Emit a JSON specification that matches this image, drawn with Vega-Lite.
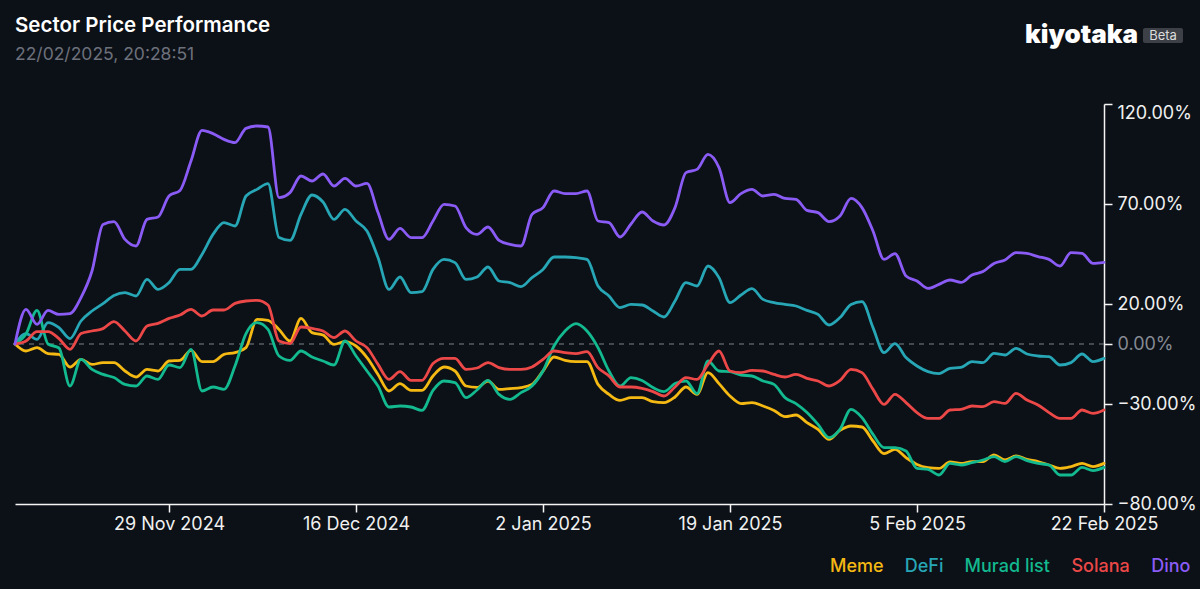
{
  "$schema": "https://vega.github.io/schema/vega-lite/v6.json",
  "autosize": "none",
  "width": 1089,
  "height": 400,
  "padding": {"left": 15, "top": 104, "right": 96, "bottom": 85},
  "background": "#0c1017",
  "config": {
    "view": {"stroke": null},
    "font": "Inter",
    "axis": {"grid": false, "labelFont": "Inter", "labelFontSize": 18, "labelColor": "#f0f0f0", "domainColor": "#f5f5f5", "domainWidth": 1.5, "tickColor": "#f5f5f5", "tickWidth": 1.5, "tickSize": 8, "title": null}
  },
  "title": {
    "text": "Sector Price Performance",
    "subtitle": "22/02/2025, 20:28:51",
    "anchor": "start",
    "frame": "group",
    "orient": "top",
    "offset": -41,
    "font": "Inter",
    "fontSize": 20.5,
    "fontWeight": 600,
    "color": "#ffffff",
    "subtitleFont": "Inter",
    "subtitleFontSize": 17.5,
    "subtitleColor": "#6c717b",
    "subtitlePadding": 9
  },
  "datasets": {
    "perf": [
      {"date":"2024-11-15","Meme":0,"DeFi":0,"Murad list":0,"Solana":0,"Dino":0},
      {"date":"2024-11-16","Meme":-3.5,"DeFi":5.2,"Murad list":5,"Solana":1.5,"Dino":17.3},
      {"date":"2024-11-17","Meme":-1.8,"DeFi":2.3,"Murad list":16.8,"Solana":6.2,"Dino":9.8},
      {"date":"2024-11-18","Meme":-4.8,"DeFi":10.7,"Murad list":0,"Solana":6.2,"Dino":16.8},
      {"date":"2024-11-19","Meme":-5.2,"DeFi":8.2,"Murad list":-2,"Solana":2.7,"Dino":14.8},
      {"date":"2024-11-20","Meme":-11.5,"DeFi":2.7,"Murad list":-21,"Solana":-2.7,"Dino":15.2},
      {"date":"2024-11-21","Meme":-7.7,"DeFi":11.5,"Murad list":-7.7,"Solana":5.2,"Dino":23.2},
      {"date":"2024-11-22","Meme":-10.2,"DeFi":16.5,"Murad list":-12.7,"Solana":6.5,"Dino":36.5},
      {"date":"2024-11-23","Meme":-9.3,"DeFi":20.2,"Murad list":-15.2,"Solana":7.7,"Dino":59.8},
      {"date":"2024-11-24","Meme":-9.3,"DeFi":24.3,"Murad list":-16.8,"Solana":11.2,"Dino":61.2},
      {"date":"2024-11-25","Meme":-13.5,"DeFi":25.7,"Murad list":-20.2,"Solana":6.5,"Dino":52.3},
      {"date":"2024-11-26","Meme":-16.5,"DeFi":24,"Murad list":-21,"Solana":1.5,"Dino":49},
      {"date":"2024-11-27","Meme":-12.7,"DeFi":32.3,"Murad list":-16,"Solana":9,"Dino":62.3},
      {"date":"2024-11-28","Meme":-13.5,"DeFi":27.3,"Murad list":-17.7,"Solana":10.3,"Dino":63.5},
      {"date":"2024-11-29","Meme":-8.5,"DeFi":30.7,"Murad list":-10.5,"Solana":12.8,"Dino":74},
      {"date":"2024-11-30","Meme":-8.2,"DeFi":37.3,"Murad list":-11.8,"Solana":14.5,"Dino":76.8},
      {"date":"2024-12-01","Meme":-3.2,"DeFi":37.3,"Murad list":-2.7,"Solana":17.3,"Dino":91.5},
      {"date":"2024-12-02","Meme":-8.8,"DeFi":44.8,"Murad list":-23.5,"Solana":14,"Dino":106.8},
      {"date":"2024-12-03","Meme":-8.8,"DeFi":54.8,"Murad list":-21.5,"Solana":17,"Dino":105.2},
      {"date":"2024-12-04","Meme":-5.2,"DeFi":60.7,"Murad list":-22.7,"Solana":17,"Dino":102.3},
      {"date":"2024-12-05","Meme":-4.3,"DeFi":59,"Murad list":-11,"Solana":20.3,"Dino":100.7},
      {"date":"2024-12-06","Meme":-1.8,"DeFi":74,"Murad list":5.2,"Solana":21.5,"Dino":107.8},
      {"date":"2024-12-07","Meme":12.3,"DeFi":77.3,"Murad list":10.7,"Solana":21.8,"Dino":109},
      {"date":"2024-12-08","Meme":11.8,"DeFi":80.2,"Murad list":7.3,"Solana":19.5,"Dino":108.5},
      {"date":"2024-12-09","Meme":7.3,"DeFi":53.2,"Murad list":-6,"Solana":1.5,"Dino":73.2},
      {"date":"2024-12-10","Meme":1.5,"DeFi":51.8,"Murad list":-8.2,"Solana":0.2,"Dino":75.7},
      {"date":"2024-12-11","Meme":12.8,"DeFi":64.8,"Murad list":-3.5,"Solana":8.5,"Dino":84},
      {"date":"2024-12-12","Meme":5.7,"DeFi":74.5,"Murad list":-6.5,"Solana":7.8,"Dino":81.5},
      {"date":"2024-12-13","Meme":4.5,"DeFi":71,"Murad list":-8.5,"Solana":6.5,"Dino":85},
      {"date":"2024-12-14","Meme":-0.2,"DeFi":62.3,"Murad list":-10.5,"Solana":3.2,"Dino":79},
      {"date":"2024-12-15","Meme":1.2,"DeFi":67.3,"Murad list":1.5,"Solana":6.5,"Dino":82.8},
      {"date":"2024-12-16","Meme":-1,"DeFi":61.5,"Murad list":-6,"Solana":1.5,"Dino":79},
      {"date":"2024-12-17","Meme":-6.8,"DeFi":56.5,"Murad list":-13.5,"Solana":-1.8,"Dino":80.3},
      {"date":"2024-12-18","Meme":-15.2,"DeFi":43.2,"Murad list":-21,"Solana":-10.2,"Dino":65.7},
      {"date":"2024-12-19","Meme":-23.5,"DeFi":27.3,"Murad list":-31.5,"Solana":-17.7,"Dino":52.3},
      {"date":"2024-12-20","Meme":-19.8,"DeFi":33.5,"Murad list":-31,"Solana":-13.8,"Dino":57.8},
      {"date":"2024-12-21","Meme":-23.2,"DeFi":25.7,"Murad list":-31.5,"Solana":-18.2,"Dino":53.2},
      {"date":"2024-12-22","Meme":-23.2,"DeFi":26.2,"Murad list":-33.2,"Solana":-18.2,"Dino":53.2},
      {"date":"2024-12-23","Meme":-16,"DeFi":37.3,"Murad list":-23.2,"Solana":-9.8,"Dino":61.5},
      {"date":"2024-12-24","Meme":-11.5,"DeFi":42.3,"Murad list":-18.5,"Solana":-7.2,"Dino":69.8},
      {"date":"2024-12-25","Meme":-13.5,"DeFi":40.7,"Murad list":-19.3,"Solana":-7.2,"Dino":69},
      {"date":"2024-12-26","Meme":-21,"DeFi":32.3,"Murad list":-26.8,"Solana":-12.7,"Dino":58.2},
      {"date":"2024-12-27","Meme":-21.7,"DeFi":33.5,"Murad list":-23,"Solana":-12,"Dino":54.8},
      {"date":"2024-12-28","Meme":-18.5,"DeFi":38.5,"Murad list":-18.2,"Solana":-9.3,"Dino":58.5},
      {"date":"2024-12-29","Meme":-22.7,"DeFi":31.5,"Murad list":-25.2,"Solana":-11.8,"Dino":51.8},
      {"date":"2024-12-30","Meme":-22.3,"DeFi":30.7,"Murad list":-27.7,"Solana":-12.7,"Dino":49.8},
      {"date":"2024-12-31","Meme":-21.8,"DeFi":28.7,"Murad list":-24.3,"Solana":-12.7,"Dino":49},
      {"date":"2025-01-01","Meme":-20.2,"DeFi":33.2,"Murad list":-21,"Solana":-11.5,"Dino":64.8},
      {"date":"2025-01-02","Meme":-13.5,"DeFi":37.3,"Murad list":-13.5,"Solana":-7.7,"Dino":68.2},
      {"date":"2025-01-03","Meme":-6.5,"DeFi":43.5,"Murad list":-1,"Solana":-3.5,"Dino":76.5},
      {"date":"2025-01-04","Meme":-8.2,"DeFi":43.5,"Murad list":6.5,"Solana":-4.3,"Dino":75.2},
      {"date":"2025-01-05","Meme":-8.8,"DeFi":43.2,"Murad list":10.2,"Solana":-4.8,"Dino":75.2},
      {"date":"2025-01-06","Meme":-8.8,"DeFi":42.3,"Murad list":6.5,"Solana":-3.8,"Dino":76.5},
      {"date":"2025-01-07","Meme":-20.2,"DeFi":29,"Murad list":-1.8,"Solana":-11.8,"Dino":61.5},
      {"date":"2025-01-08","Meme":-25.2,"DeFi":24,"Murad list":-13.5,"Solana":-16,"Dino":60.7},
      {"date":"2025-01-09","Meme":-28.2,"DeFi":18.2,"Murad list":-21,"Solana":-21.5,"Dino":53.5},
      {"date":"2025-01-10","Meme":-26.8,"DeFi":19.8,"Murad list":-16.8,"Solana":-21.5,"Dino":60},
      {"date":"2025-01-11","Meme":-26.8,"DeFi":19.5,"Murad list":-18.2,"Solana":-22.2,"Dino":66},
      {"date":"2025-01-12","Meme":-28.8,"DeFi":16.5,"Murad list":-21.8,"Solana":-23.8,"Dino":61.5},
      {"date":"2025-01-13","Meme":-29.3,"DeFi":13.5,"Murad list":-23.8,"Solana":-26,"Dino":59.5},
      {"date":"2025-01-14","Meme":-26.5,"DeFi":21.5,"Murad list":-19.8,"Solana":-21.5,"Dino":68.2},
      {"date":"2025-01-15","Meme":-21.5,"DeFi":30.7,"Murad list":-18.5,"Solana":-16.8,"Dino":85.7},
      {"date":"2025-01-16","Meme":-25.2,"DeFi":29,"Murad list":-24.8,"Solana":-17.7,"Dino":87.3},
      {"date":"2025-01-17","Meme":-14.3,"DeFi":39,"Murad list":-8.5,"Solana":-10.2,"Dino":94.8},
      {"date":"2025-01-18","Meme":-19.8,"DeFi":33.2,"Murad list":-13.5,"Solana":-3.5,"Dino":88.2},
      {"date":"2025-01-19","Meme":-26,"DeFi":20.7,"Murad list":-13.8,"Solana":-13.5,"Dino":70.7},
      {"date":"2025-01-20","Meme":-29.8,"DeFi":24.5,"Murad list":-15.5,"Solana":-14.3,"Dino":75.2},
      {"date":"2025-01-21","Meme":-29.3,"DeFi":27.7,"Murad list":-16,"Solana":-13.2,"Dino":77.3},
      {"date":"2025-01-22","Meme":-31,"DeFi":22.3,"Murad list":-18.5,"Solana":-13.5,"Dino":74},
      {"date":"2025-01-23","Meme":-33.2,"DeFi":20.7,"Murad list":-20.2,"Solana":-15.2,"Dino":74.8},
      {"date":"2025-01-24","Meme":-36.3,"DeFi":19.8,"Murad list":-26.8,"Solana":-16.5,"Dino":72.8},
      {"date":"2025-01-25","Meme":-35.5,"DeFi":19,"Murad list":-29.8,"Solana":-15.2,"Dino":72.3},
      {"date":"2025-01-26","Meme":-39.3,"DeFi":16.8,"Murad list":-34.3,"Solana":-17.2,"Dino":66.8},
      {"date":"2025-01-27","Meme":-42.7,"DeFi":14.8,"Murad list":-40.2,"Solana":-18.5,"Dino":65.7},
      {"date":"2025-01-28","Meme":-47.7,"DeFi":9.5,"Murad list":-46.8,"Solana":-21,"Dino":61.2},
      {"date":"2025-01-29","Meme":-43.2,"DeFi":13.2,"Murad list":-42.7,"Solana":-18.2,"Dino":64},
      {"date":"2025-01-30","Meme":-41,"DeFi":19.8,"Murad list":-32.7,"Solana":-12.7,"Dino":72.8},
      {"date":"2025-01-31","Meme":-41.5,"DeFi":21.2,"Murad list":-36.8,"Solana":-14.3,"Dino":68.2},
      {"date":"2025-02-01","Meme":-48.5,"DeFi":8.2,"Murad list":-45.2,"Solana":-22.7,"Dino":56.5},
      {"date":"2025-02-02","Meme":-54.8,"DeFi":-4.3,"Murad list":-51.8,"Solana":-30.2,"Dino":42.3},
      {"date":"2025-02-03","Meme":-52.7,"DeFi":0.2,"Murad list":-51.8,"Solana":-25.2,"Dino":45.2},
      {"date":"2025-02-04","Meme":-56.8,"DeFi":-6.8,"Murad list":-53.5,"Solana":-29.3,"Dino":34},
      {"date":"2025-02-05","Meme":-60.2,"DeFi":-11,"Murad list":-62.2,"Solana":-34.3,"Dino":31.5},
      {"date":"2025-02-06","Meme":-61.8,"DeFi":-13.8,"Murad list":-62.7,"Solana":-37.2,"Dino":27.8},
      {"date":"2025-02-07","Meme":-62.2,"DeFi":-14.8,"Murad list":-65.5,"Solana":-37.2,"Dino":29.8},
      {"date":"2025-02-08","Meme":-59,"DeFi":-12.2,"Murad list":-59.7,"Solana":-33,"Dino":32},
      {"date":"2025-02-09","Meme":-59.7,"DeFi":-11.7,"Murad list":-60.5,"Solana":-32.7,"Dino":30.8},
      {"date":"2025-02-10","Meme":-58.8,"DeFi":-8.8,"Murad list":-59.3,"Solana":-31,"Dino":34.5},
      {"date":"2025-02-11","Meme":-58.8,"DeFi":-9.3,"Murad list":-58,"Solana":-31.3,"Dino":36.2},
      {"date":"2025-02-12","Meme":-55.5,"DeFi":-4.7,"Murad list":-56.3,"Solana":-28.8,"Dino":40.3},
      {"date":"2025-02-13","Meme":-58,"DeFi":-5.5,"Murad list":-58.8,"Solana":-29.7,"Dino":42},
      {"date":"2025-02-14","Meme":-56,"DeFi":-2.2,"Murad list":-56.3,"Solana":-24.7,"Dino":45.7},
      {"date":"2025-02-15","Meme":-57.7,"DeFi":-5,"Murad list":-58.3,"Solana":-28,"Dino":45.3},
      {"date":"2025-02-16","Meme":-58.8,"DeFi":-6,"Murad list":-59.7,"Solana":-30.5,"Dino":43.7},
      {"date":"2025-02-17","Meme":-60.5,"DeFi":-6.3,"Murad list":-60.5,"Solana":-34.3,"Dino":42.3},
      {"date":"2025-02-18","Meme":-62.2,"DeFi":-10.5,"Murad list":-65.5,"Solana":-37.2,"Dino":39},
      {"date":"2025-02-19","Meme":-61.3,"DeFi":-9.3,"Murad list":-65.5,"Solana":-37.2,"Dino":45.7},
      {"date":"2025-02-20","Meme":-59.7,"DeFi":-5,"Murad list":-61.7,"Solana":-33,"Dino":45.3},
      {"date":"2025-02-21","Meme":-61.3,"DeFi":-8.8,"Murad list":-63.3,"Solana":-34.7,"Dino":40.3},
      {"date":"2025-02-22","Meme":-59.7,"DeFi":-7.2,"Murad list":-61.7,"Solana":-33,"Dino":40.8}
    ]
  },
  "layer": [
    {
      "data": {"values": [{}]},
      "mark": {"type": "rule", "stroke": "#7d8189", "strokeWidth": 1.2, "strokeDash": [5, 5]},
      "encoding": {"y": {"datum": 0, "type": "quantitative", "scale": {"domain": [-80, 120], "nice": false, "zero": false}}}
    },
    {
      "data": {"name": "perf"},
      "transform": [{"fold": ["Meme", "DeFi", "Murad list", "Solana", "Dino"], "as": ["sector", "pct"]}],
      "mark": {"type": "line", "strokeWidth": 2.8, "interpolate": "monotone", "strokeCap": "round", "strokeJoin": "round"},
      "encoding": {
        "x": {
          "field": "date",
          "type": "temporal",
          "scale": {"type": "utc", "domain": [{"year": 2024, "month": 11, "date": 15, "utc": true}, {"year": 2025, "month": 2, "date": 22, "utc": true}]},
          "axis": {
            "values": [
              {"year": 2024, "month": 11, "date": 29, "utc": true},
              {"year": 2024, "month": 12, "date": 16, "utc": true},
              {"year": 2025, "month": 1, "date": 2, "utc": true},
              {"year": 2025, "month": 1, "date": 19, "utc": true},
              {"year": 2025, "month": 2, "date": 5, "utc": true},
              {"year": 2025, "month": 2, "date": 22, "utc": true}
            ],
            "format": "%-d %b %Y",
            "labelFlush": false,
            "labelPadding": 3
          }
        },
        "y": {
          "field": "pct",
          "type": "quantitative",
          "scale": {"domain": [-80, 120], "nice": false, "zero": false},
          "axis": {
            "orient": "right",
            "values": [-80, -30, 0, 20, 70, 120],
            "labelExpr": "format(datum.value, '.2f') + '%'",
            "labelPadding": 5,
            "labelColor": {"condition": {"test": "datum.value === 0", "value": "#858a93"}, "value": "#f0f0f0"},
            "labelBaseline": {"condition": {"test": "datum.value === 120", "value": "top"}, "value": "middle"}
          }
        },
        "color": {
          "field": "sector",
          "type": "nominal",
          "scale": {"domain": ["Meme", "DeFi", "Murad list", "Solana", "Dino"], "range": ["#f5b914", "#27a6b6", "#13b98f", "#ec4848", "#8a5cf5"]},
          "legend": {
            "title": null,
            "orient": "none",
            "direction": "horizontal",
            "legendX": 797,
            "legendY": 454,
            "padding": 0,
            "symbolSize": 1,
            "symbolStrokeWidth": 0,
            "symbolOpacity": 0,
            "labelOffset": 0,
            "columnPadding": 2.8,
            "labelFont": "Inter",
            "labelFontSize": 18,
            "labelFontWeight": 500,
            "encode": {"labels": {"update": {"fill": {"scale": "color", "field": "value"}}}}
          }
        }
      }
    },
    {
      "data": {"values": [{}]},
      "mark": {"type": "text", "text": "kiyotaka", "x": 1010, "y": -61, "align": "left", "baseline": "alphabetic", "font": "Inter", "fontSize": 26, "fontWeight": 900, "fill": "#ffffff"},
      "encoding": {}
    },
    {
      "data": {"values": [{}]},
      "mark": {"type": "rect", "x": 1128, "x2": 1168, "y": -76, "y2": -61, "fill": "#3d4047", "cornerRadius": 2},
      "encoding": {}
    },
    {
      "data": {"values": [{}]},
      "mark": {"type": "text", "text": "Beta", "x": 1148, "y": -68.5, "align": "center", "baseline": "middle", "font": "Inter", "fontSize": 13, "fill": "#dcdcdc"},
      "encoding": {}
    }
  ]
}
